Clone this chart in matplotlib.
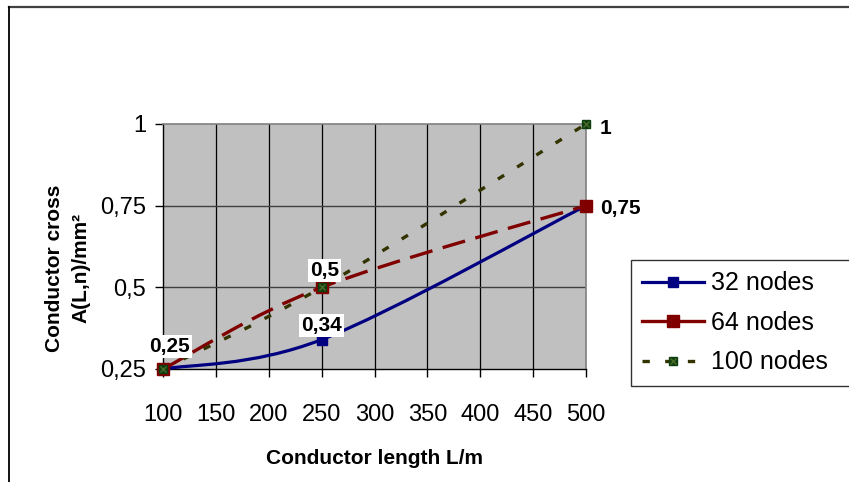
import matplotlib
matplotlib.use("Agg")
import matplotlib.pyplot as plt
from matplotlib.path import Path
from matplotlib.patches import PathPatch
from matplotlib.lines import Line2D
from matplotlib.legend_handler import HandlerTuple

plt.rcParams['font.family'] = ['Liberation Sans', 'DejaVu Sans']

# ---- data ----
lengths = [100, 250, 500]
nodes32 = [0.25, 0.34, 0.75]
nodes64 = [0.25, 0.50, 0.75]
nodes100 = [0.25, 0.50, 1.00]
series_names = ["32 nodes", "64 nodes", "100 nodes"]
x_ticks = [100, 150, 200, 250, 300, 350, 400, 450, 500]
y_ticks = [0.25, 0.5, 0.75, 1.0]
y_tick_labels = ["0,25", "0,5", "0,75", "1"]
# data labels: (x, y, text)
data_labels = [(100, 0.25, "0,25"), (250, 0.5, "0,5"), (250, 0.34, "0,34"),
               (500, 0.75, "0,75"), (500, 1.0, "1")]


def smooth_path(xs, ys):
    """Excel-like smoothed line (Catmull-Rom as cubic Bezier)."""
    n = len(xs)
    verts = [(xs[0], ys[0])]
    codes = [Path.MOVETO]
    for i in range(n - 1):
        p0 = (xs[max(i - 1, 0)], ys[max(i - 1, 0)])
        p1 = (xs[i], ys[i])
        p2 = (xs[i + 1], ys[i + 1])
        p3 = (xs[min(i + 2, n - 1)], ys[min(i + 2, n - 1)])
        c1 = (p1[0] + (p2[0] - p0[0]) / 6, p1[1] + (p2[1] - p0[1]) / 6)
        c2 = (p2[0] - (p3[0] - p1[0]) / 6, p2[1] - (p3[1] - p1[1]) / 6)
        verts += [c1, c2, p2]
        codes += [Path.CURVE4] * 3
    return Path(verts, codes)


fig = plt.figure(figsize=(8.49, 4.82), dpi=100)
fig.patch.set_facecolor("white")
ax = fig.add_axes([163 / 849, 1 - 369 / 482, (586 - 163) / 849, (369 - 124) / 482])
ax.set_facecolor("#C0C0C0")
ax.set_xlim(100, 500)
ax.set_ylim(0.25, 1.0)

# grid
for xv in x_ticks[1:-1]:
    ax.axvline(xv, color="black", lw=0.9, zorder=1)
for yv in y_ticks[1:-1]:
    ax.axhline(yv, color="#404040", lw=1.0, zorder=1)

for s in ["top", "right"]:
    ax.spines[s].set_color("#808080")
    ax.spines[s].set_linewidth(1.2)
for s in ["left", "bottom"]:
    ax.spines[s].set_color("black")
    ax.spines[s].set_linewidth(1.0)

ax.set_xticks(x_ticks)
ax.set_xticklabels([str(v) for v in x_ticks])
ax.set_yticks(y_ticks)
ax.set_yticklabels(y_tick_labels)
ax.tick_params(axis="both", direction="out", length=6, width=1, labelsize=17, colors="black")
ax.tick_params(axis="x", pad=19)
ax.tick_params(axis="y", pad=6)

c32, c64, c100 = "#000080", "#800000", "#333300"
m100 = "#0f3f0f"

p = PathPatch(smooth_path(lengths, nodes32), fill=False, edgecolor=c32, lw=2.3,
              capstyle="round", zorder=3, clip_on=False)
ax.add_patch(p)
p = PathPatch(smooth_path(lengths, nodes64), fill=False, edgecolor=c64, lw=2.4,
              linestyle=(0, (7, 3.2)), zorder=3, clip_on=False)
ax.add_patch(p)
p = PathPatch(smooth_path(lengths, nodes100), fill=False, edgecolor=c100, lw=2.4,
              linestyle=(0, (2.2, 4.6)), zorder=3, clip_on=False)
ax.add_patch(p)

ax.plot(lengths, nodes32, ls="none", marker="s", ms=7.5, color=c32, zorder=4, clip_on=False)
ax.plot(lengths, nodes64, ls="none", marker="s", ms=9, color=c64, zorder=5, clip_on=False)
ax.plot(lengths, nodes100, ls="none", marker="s", ms=6, color=m100, zorder=6, clip_on=False)
ax.plot(lengths, nodes100, ls="none", marker="x", ms=4.5, mew=1, color="#4a6a2a", zorder=7, clip_on=False)

# data labels
offsets = {"0,25": (5, 16), "0,5": (2, 12), "0,34": (0, 10), "0,75": (10, -2), "1": (10, -3)}
for xv, yv, txt in data_labels:
    dx, dy = offsets[txt]
    inside = txt in ("0,25", "0,5", "0,34")
    ha = "center" if inside else "left"
    bbox = dict(facecolor="white", edgecolor="none", pad=1.5) if inside else None
    ax.annotate(txt, (xv, yv), xytext=(dx, dy), textcoords="offset points",
                ha=ha, va="center", fontsize=15, fontweight="bold",
                bbox=bbox, zorder=10, annotation_clip=False)

ax.set_xlabel("Conductor length L/m", fontsize=15, fontweight="bold", labelpad=17)
fig.text(68 / 849, 1 - 268 / 482, "Conductor cross\nA(L,n)/mm²", rotation=90,
         ha="center", va="center", fontsize=15, fontweight="bold", linespacing=1.5)

# legend
h32 = Line2D([], [], color=c32, lw=2.3, marker="s", ms=7.5)
h64 = Line2D([], [], color=c64, lw=2.4, marker="s", ms=9)
h100a = Line2D([], [], color=c100, lw=2.4, linestyle=(0, (2.2, 4.6)))
h100b = Line2D([], [], ls="none", marker="s", ms=6, color=m100)
h100c = Line2D([], [], ls="none", marker="x", ms=4.5, mew=1, color="#4a6a2a")
leg = fig.legend([h32, h64, (h100a, h100b, h100c)], series_names,
                 loc="upper left", bbox_to_anchor=(631 / 849, 1 - 400 / 482, 0.3, 140 / 482),
                 mode="expand", fontsize=18, frameon=True, fancybox=False,
                 handlelength=2.45, handletextpad=0.3, labelspacing=0.62,
                 borderpad=0.45, borderaxespad=0,
                 handler_map={tuple: HandlerTuple(ndivide=1, pad=0)})
leg.get_frame().set_edgecolor("black")
leg.get_frame().set_linewidth(1.0)

# figure border lines
fig.add_artist(Line2D([9 / 849, 1], [1 - 7 / 482, 1 - 7 / 482], transform=fig.transFigure,
                      color="#404040", lw=1.6))
fig.add_artist(Line2D([9 / 849, 9 / 849], [0, 1 - 7 / 482], transform=fig.transFigure,
                      color="black", lw=1.3))

fig.savefig("out.png", dpi=100)
